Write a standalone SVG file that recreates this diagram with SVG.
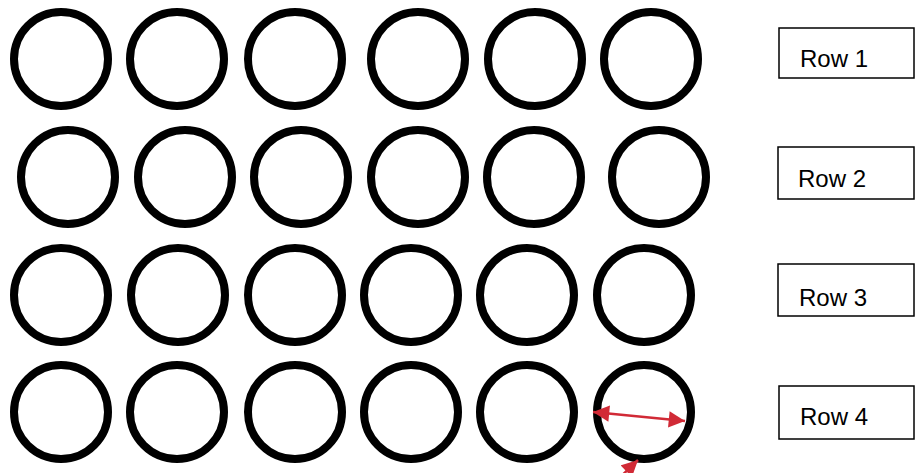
<svg xmlns="http://www.w3.org/2000/svg" width="915" height="473" viewBox="0 0 915 473">
<defs>
<style>
.c{fill:none;stroke:#000;stroke-width:8}
.b{fill:#fff;stroke:#000;stroke-width:1.5}
.t{font-family:"Liberation Sans",Arial,sans-serif;font-size:24px;fill:#000}
.a{stroke:#d12a36;stroke-width:2.5;fill:none}
</style>
<marker id="ah" viewBox="0 0 10 10" refX="10" refY="5" markerWidth="7" markerHeight="6.5" markerUnits="strokeWidth" orient="auto-start-reverse">
<path d="M0,0 L10,5 L0,10 Z" fill="#d12a36"/>
</marker>
</defs>
<rect width="915" height="473" fill="#fff"/>
<g id="row1-circles">
<circle id="r1c1" class="c" cx="61" cy="59" r="47"/>
<circle id="r1c2" class="c" cx="177" cy="59" r="47"/>
<circle id="r1c3" class="c" cx="295" cy="59" r="47"/>
<circle id="r1c4" class="c" cx="418" cy="59" r="47"/>
<circle id="r1c5" class="c" cx="535" cy="59" r="47"/>
<circle id="r1c6" class="c" cx="651" cy="59" r="47"/>
</g>
<g id="row2-circles">
<circle id="r2c1" class="c" cx="68" cy="177" r="47"/>
<circle id="r2c2" class="c" cx="185" cy="177" r="47"/>
<circle id="r2c3" class="c" cx="301" cy="177" r="47"/>
<circle id="r2c4" class="c" cx="418" cy="177" r="47"/>
<circle id="r2c5" class="c" cx="534" cy="177" r="47"/>
<circle id="r2c6" class="c" cx="659" cy="177" r="47"/>
</g>
<g id="row3-circles">
<circle id="r3c1" class="c" cx="61" cy="295" r="47"/>
<circle id="r3c2" class="c" cx="178" cy="295" r="47"/>
<circle id="r3c3" class="c" cx="295" cy="295" r="47"/>
<circle id="r3c4" class="c" cx="411" cy="295" r="47"/>
<circle id="r3c5" class="c" cx="527" cy="295" r="47"/>
<circle id="r3c6" class="c" cx="644" cy="295" r="47"/>
</g>
<g id="row4-circles">
<circle id="r4c1" class="c" cx="61" cy="412" r="47"/>
<circle id="r4c2" class="c" cx="177" cy="412" r="47"/>
<circle id="r4c3" class="c" cx="295" cy="412" r="47"/>
<circle id="r4c4" class="c" cx="411" cy="412" r="47"/>
<circle id="r4c5" class="c" cx="527" cy="412" r="47"/>
<circle id="r4c6" class="c" cx="644" cy="412" r="47"/>
</g>
<g id="label-row1"><rect class="b" x="779" y="28" width="135" height="50"/><text class="t" x="800" y="67">Row 1</text></g>
<g id="label-row2"><rect class="b" x="778" y="147" width="136" height="52"/><text class="t" x="798" y="187">Row 2</text></g>
<g id="label-row3"><rect class="b" x="778" y="264" width="136" height="52"/><text class="t" x="799" y="306">Row 3</text></g>
<g id="label-row4"><rect class="b" x="779" y="386" width="135" height="53"/><text class="t" x="800" y="425">Row 4</text></g>
<g id="connectors">
<line class="a" x1="593" y1="412" x2="685" y2="421" marker-start="url(#ah)" marker-end="url(#ah)"/>
<line class="a" x1="612" y1="485" x2="638" y2="460" marker-end="url(#ah)"/>
</g>
</svg>
